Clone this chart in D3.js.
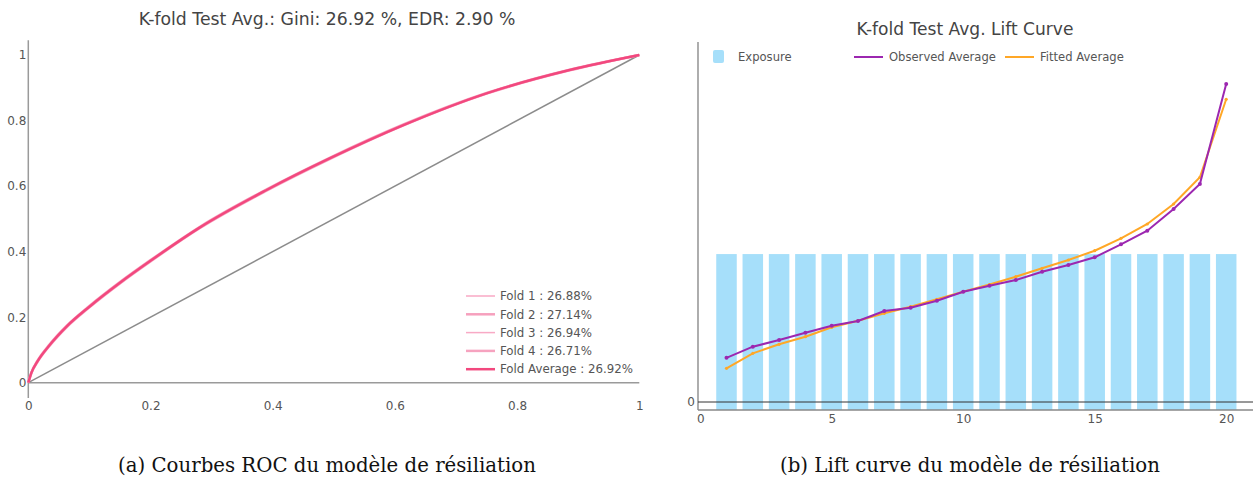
<!DOCTYPE html>
<html>
<head>
<meta charset="utf-8">
<script src="https://cdn.jsdelivr.net/npm/d3@7"></script>
<style>
  html, body { margin: 0; padding: 0; background: #fff; }
  svg { display: block; }
  text { font-family: "DejaVu Sans", "Open Sans", sans-serif; }
</style>
</head>
<body>
<svg id="chart" width="1255" height="479"></svg>
<script>
// ---------- DATA ----------
// ROC (left)
const rocTitle = "K-fold Test Avg.: Gini: 26.92 %, EDR: 2.90 %";
const rocFPR   = [0, 0.005, 0.015, 0.035, 0.063, 0.100, 0.150, 0.200, 0.281, 0.390, 0.494, 0.614, 0.750, 0.886, 1];
const rocAvg   = [0, 0.030, 0.065, 0.115, 0.172, 0.232, 0.305, 0.372, 0.474, 0.588, 0.685, 0.786, 0.883, 0.954, 1];
const rocFold1 = [0, 0.029, 0.064, 0.114, 0.171, 0.231, 0.304, 0.371, 0.473, 0.587, 0.684, 0.786, 0.883, 0.954, 1];
const rocFold2 = [0, 0.031, 0.067, 0.117, 0.174, 0.234, 0.307, 0.374, 0.476, 0.590, 0.687, 0.788, 0.884, 0.955, 1];
const rocFold3 = [0, 0.030, 0.065, 0.115, 0.172, 0.232, 0.305, 0.372, 0.474, 0.588, 0.686, 0.786, 0.883, 0.954, 1];
const rocFold4 = [0, 0.029, 0.063, 0.113, 0.170, 0.230, 0.303, 0.370, 0.472, 0.586, 0.683, 0.785, 0.882, 0.953, 1];
const rocLegend = ["Fold 1 : 26.88%", "Fold 2 : 27.14%", "Fold 3 : 26.94%", "Fold 4 : 26.71%", "Fold Average : 26.92%"];
const rocTicks = [0, 0.2, 0.4, 0.6, 0.8, 1];

// Lift (right)
const liftTitle = "K-fold Test Avg. Lift Curve";
const bins      = [1,2,3,4,5,6,7,8,9,10,11,12,13,14,15,16,17,18,19,20];
const exposure  = [5,5,5,5,5,5,5,5,5,5,5,5,5,5,5,5,5,5,5,5];
const observed  = [4.42,5.53,6.20,6.93,7.63,8.10,9.10,9.43,10.13,11.03,11.63,12.20,13.03,13.70,14.47,15.77,17.13,19.30,21.80,31.80];
const fitted    = [3.37,4.87,5.77,6.53,7.47,8.13,8.87,9.53,10.27,11.03,11.75,12.53,13.37,14.20,15.13,16.37,17.80,19.80,22.47,30.27];
const liftXTicks = [0, 5, 10, 15, 20];
const liftYTicks = [0];
const liftLegend = ["Exposure", "Observed Average", "Fitted Average"];

const captions = ["(a) Courbes ROC du modèle de résiliation", "(b) Lift curve du modèle de résiliation"];

// ---------- HELPERS ----------
function fitWidth(sel, target) {
  const node = sel.node();
  const base = parseFloat(sel.attr("font-size"));
  const w = node.getComputedTextLength();
  if (w > 0) sel.attr("font-size", (base * target / w).toFixed(2));
  return sel;
}

// ---------- DRAW ----------
const svg = d3.select("#chart");
const tickColor = "#555";
const axisGrey = "#9a9a9a";
const tickFont = 12;

// ===== LEFT: ROC =====
const xL = d3.scaleLinear().domain([0, 1]).range([28.3, 639.3]);
const yL = d3.scaleLinear().domain([0, 1]).range([382.7, 55]);
const gL = svg.append("g");

fitWidth(gL.append("text").attr("x", 327).attr("y", 25).attr("text-anchor", "middle")
  .attr("font-size", 15).attr("fill", "#444").text(rocTitle), 377);

// axes lines
gL.append("line").attr("x1", xL(0)).attr("x2", xL(0)).attr("y1", yL(1.045)).attr("y2", yL(-0.047))
  .attr("stroke", axisGrey).attr("stroke-width", 1.5);
gL.append("line").attr("x1", xL(0)).attr("x2", xL(1)).attr("y1", yL(0)).attr("y2", yL(0))
  .attr("stroke", axisGrey).attr("stroke-width", 1.5);

const axYL = d3.axisLeft(yL).tickValues(rocTicks).tickSize(0).tickPadding(2).tickFormat(d3.format("~g"));
const gyL = gL.append("g").attr("transform", `translate(${xL(0)},0)`).call(axYL);
gyL.select(".domain").remove();
gyL.selectAll("text").attr("font-size", tickFont).attr("fill", tickColor).attr("font-family", "'DejaVu Sans', sans-serif");

const axXL = d3.axisBottom(xL).tickValues(rocTicks).tickSize(0).tickPadding(0).tickFormat(d3.format("~g"));
const gxL = gL.append("g").attr("transform", `translate(0,401)`).call(axXL);
gxL.select(".domain").remove();
gxL.selectAll("text").attr("font-size", tickFont).attr("fill", tickColor).attr("font-family", "'DejaVu Sans', sans-serif");

// diagonal
gL.append("line").attr("x1", xL(0)).attr("y1", yL(0)).attr("x2", xL(1)).attr("y2", yL(1))
  .attr("stroke", "#8c8c8c").attr("stroke-width", 1.5);

const rocLine = d3.line().x(d => xL(d[0])).y(d => yL(d[1])).curve(d3.curveMonotoneX);
const folds = [rocFold1, rocFold2, rocFold3, rocFold4];
const foldColors = ["#f8a9c4", "#f6a0bd", "#f8aac5", "#f6a3bf"];
const foldWidths = [1.5, 2.5, 1.5, 2.5];
folds.forEach((f, i) => {
  gL.append("path").datum(rocFPR.map((x, j) => [x, f[j]]))
    .attr("d", rocLine).attr("fill", "none").attr("stroke", foldColors[i]).attr("stroke-width", foldWidths[i]);
});
gL.append("path").datum(rocFPR.map((x, j) => [x, rocAvg[j]]))
  .attr("d", rocLine).attr("fill", "none").attr("stroke", "#f2487e").attr("stroke-width", 2.5);

// legend
const legL = gL.append("g").attr("transform", "translate(466,296)");
let legSize = null;
rocLegend.forEach((t, i) => {
  const g = legL.append("g").attr("transform", `translate(0,${i * 18.3})`);
  g.append("line").attr("x1", 0).attr("x2", 29).attr("y1", 0).attr("y2", 0)
    .attr("stroke", i < 4 ? foldColors[i] : "#f2487e").attr("stroke-width", i < 4 ? foldWidths[i] : 2.5);
  g.append("text").attr("x", 34).attr("y", 0).attr("dy", "0.36em")
    .attr("font-size", 11.5).attr("fill", tickColor).text(t);
});
{
  const last = legL.selectAll("text").filter((d, i) => i === 4);
  fitWidth(last, 133);
  legSize = last.attr("font-size");
  legL.selectAll("text").attr("font-size", legSize);
}

// ===== RIGHT: LIFT =====
const xR = d3.scaleLinear().domain([0, 21]).range([700.2, 1252.5]);
const yR = d3.scaleLinear().domain([0, 36]).range([402, 42]);
const yE = d3.scaleLinear().domain([0, 11.8]).range([410, 42]);
const gR = svg.append("g");

fitWidth(gR.append("text").attr("x", 965).attr("y", 35).attr("text-anchor", "middle")
  .attr("font-size", 15).attr("fill", "#444").text(liftTitle), 217);

// bars
const halfW = 0.39;
gR.selectAll("rect.bar").data(bins).enter().append("rect")
  .attr("class", "bar")
  .attr("x", d => xR(d - halfW))
  .attr("width", d => xR(d + halfW) - xR(d - halfW))
  .attr("y", (d, i) => yE(exposure[i]))
  .attr("height", (d, i) => yE(0) - yE(exposure[i]))
  .attr("fill", "#a6dffa");

// axes
gR.append("line").attr("x1", 698).attr("x2", 698).attr("y1", 42).attr("y2", yE(0))
  .attr("stroke", "#777").attr("stroke-width", 1.2);
gR.append("line").attr("x1", 698).attr("x2", 1253).attr("y1", yE(0)).attr("y2", yE(0))
  .attr("stroke", "#888").attr("stroke-width", 1.5);
gR.append("line").attr("x1", 698).attr("x2", 1253).attr("y1", yR(0)).attr("y2", yR(0))
  .attr("stroke", "#333").attr("stroke-width", 1);

const axXR = d3.axisBottom(xR).tickValues(liftXTicks).tickSize(0).tickPadding(0);
const gxR = gR.append("g").attr("transform", "translate(0,414)").call(axXR);
gxR.select(".domain").remove();
gxR.selectAll("text").attr("font-size", tickFont).attr("fill", tickColor).attr("font-family", "'DejaVu Sans', sans-serif");

const axYR = d3.axisLeft(yR).tickValues(liftYTicks).tickSize(0).tickPadding(3);
const gyR = gR.append("g").attr("transform", "translate(698,0)").call(axYR);
gyR.select(".domain").remove();
gyR.selectAll("text").attr("font-size", tickFont).attr("fill", tickColor).attr("font-family", "'DejaVu Sans', sans-serif");

// lines
const liftLine = d3.line().x(d => xR(d[0])).y(d => yR(d[1]));
const purple = "#9c27b0", orange = "#ffa726";
gR.append("path").datum(bins.map((b, i) => [b, fitted[i]]))
  .attr("d", liftLine).attr("fill", "none").attr("stroke", orange).attr("stroke-width", 2);
gR.selectAll("circle.fit").data(bins).enter().append("circle").attr("class", "fit")
  .attr("cx", d => xR(d)).attr("cy", (d, i) => yR(fitted[i])).attr("r", 1.6).attr("fill", orange);
gR.append("path").datum(bins.map((b, i) => [b, observed[i]]))
  .attr("d", liftLine).attr("fill", "none").attr("stroke", purple).attr("stroke-width", 2);
gR.selectAll("circle.obs").data(bins).enter().append("circle").attr("class", "obs")
  .attr("cx", d => xR(d)).attr("cy", (d, i) => yR(observed[i])).attr("r", 2).attr("fill", purple);

// legend
const legR = gR.append("g");
legR.append("rect").attr("x", 713).attr("y", 50).attr("width", 11).attr("height", 13).attr("rx", 2)
  .attr("fill", "#a6dffa");
legR.append("text").attr("x", 738).attr("y", 57).attr("dy", "0.36em").attr("font-size", 11.5)
  .attr("fill", tickColor).text(liftLegend[0]);
legR.append("line").attr("x1", 854).attr("x2", 883).attr("y1", 57).attr("y2", 57)
  .attr("stroke", purple).attr("stroke-width", 2);
const obsText = legR.append("text").attr("x", 889).attr("y", 57).attr("dy", "0.36em").attr("font-size", 11.5)
  .attr("fill", tickColor).text(liftLegend[1]);
legR.append("line").attr("x1", 1005).attr("x2", 1034).attr("y1", 57).attr("y2", 57)
  .attr("stroke", orange).attr("stroke-width", 2);
legR.append("text").attr("x", 1040).attr("y", 57).attr("dy", "0.36em").attr("font-size", 11.5)
  .attr("fill", tickColor).text(liftLegend[2]);
fitWidth(obsText, 107);
legR.selectAll("text").attr("font-size", obsText.attr("font-size"));

// ===== CAPTIONS =====
const capX = [327, 970];
const capW = [418, 380];
captions.forEach((c, i) => {
  const t = svg.append("text").attr("x", capX[i]).attr("y", 472).attr("text-anchor", "middle")
    .attr("font-size", 17).attr("fill", "#111")
    .style("font-family", "'DejaVu Serif', serif")
    .text(c);
  fitWidth(t, capW[i]);
});
</script>
</body>
</html>
